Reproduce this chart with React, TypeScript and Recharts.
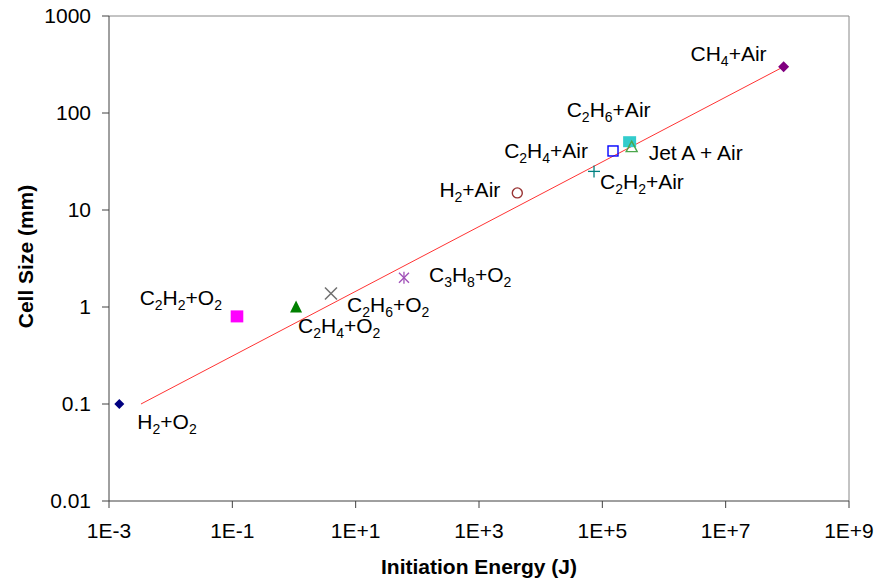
import React from 'react';
import { ScatterChart, Scatter, XAxis, YAxis, ReferenceLine } from 'recharts';

// ---- data ----
const mixtures = ['H2+O2', 'C2H2+O2', 'C2H4+O2', 'C2H6+O2', 'C3H8+O2', 'H2+Air', 'C2H2+Air', 'C2H4+Air', 'C2H6+Air', 'Jet A + Air', 'CH4+Air'];
const initiationEnergy = [0.00147, 0.119, 1.08, 3.98, 60.7, 4180, 73300, 149000, 277000, 299000, 8.7e7];
const cellSize = [0.1, 0.8, 1.0, 1.38, 2.0, 15, 25, 40.6, 50.6, 45, 300];
const fitEnergy = [0.0033, 8.7e7];
const fitCell = [0.1, 300];
const xTicks = [1e-3, 1e-1, 1e1, 1e3, 1e5, 1e7, 1e9];
const xTickLabels = ['1E-3', '1E-1', '1E+1', '1E+3', '1E+5', '1E+7', '1E+9'];
const yTicks = [0.01, 0.1, 1, 10, 100, 1000];
const yTickLabels = ['0.01', '0.1', '1', '10', '100', '1000'];

// ---- styles ----
const FONT = '"Liberation Sans", Arial, sans-serif';
const FS = 21;
type Mk = { kind: string; color: string };
const markers: Mk[] = [
  { kind: 'diamond', color: '#000080' },
  { kind: 'square', color: '#FF00FF' },
  { kind: 'triangle', color: '#008000' },
  { kind: 'x', color: '#707070' },
  { kind: 'star', color: '#A050B8' },
  { kind: 'circleOpen', color: '#993333' },
  { kind: 'plus', color: '#008080' },
  { kind: 'squareOpen', color: '#0000FF' },
  { kind: 'squareBig', color: '#33CCCC' },
  { kind: 'triangleOpen', color: '#4CA64C' },
  { kind: 'diamondBig', color: '#800080' },
];
const labelPos: { anchor: 'start' | 'end' | 'middle'; dx: number; dy: number }[] = [
  { anchor: 'start', dx: 18, dy: 25 },
  { anchor: 'end', dx: -15, dy: -11 },
  { anchor: 'start', dx: 2, dy: 26 },
  { anchor: 'start', dx: 16, dy: 19 },
  { anchor: 'start', dx: 25, dy: 4 },
  { anchor: 'end', dx: -17, dy: 4 },
  { anchor: 'start', dx: 6, dy: 18 },
  { anchor: 'end', dx: -25, dy: 7 },
  { anchor: 'middle', dx: -21, dy: -25 },
  { anchor: 'start', dx: 17, dy: 13.5 },
  { anchor: 'end', dx: -17, dy: -6 },
];

function ChemLabel({ x, y, text, anchor }: { x: number; y: number; text: string; anchor: 'start' | 'end' | 'middle' }) {
  const parts: React.ReactNode[] = [];
  let sub = false;
  let buf = '';
  let k = 0;
  const flush = (isSub: boolean) => {
    if (!buf) return;
    parts.push(
      <tspan key={k++} fontSize={isSub ? 14 : FS} dy={0}>
        {buf}
      </tspan>
    );
    buf = '';
  };
  // build segments with shifts
  const segs: { s: string; sub: boolean }[] = [];
  for (const ch of text) {
    const isDigit = ch >= '0' && ch <= '9';
    if (segs.length && segs[segs.length - 1].sub === isDigit) segs[segs.length - 1].s += ch;
    else segs.push({ s: ch, sub: isDigit });
  }
  void flush; void sub; void parts;
  let cur = 0;
  return (
    <text x={x} y={y} textAnchor={anchor} fontFamily={FONT} fontSize={FS} fill="#000">
      {segs.map((sg, i) => {
        const target = sg.sub ? 5 : 0;
        const d = target - cur;
        cur = target;
        return (
          <tspan key={i} dy={d} fontSize={sg.sub ? 14 : FS}>
            {sg.s}
          </tspan>
        );
      })}
    </text>
  );
}

function Marker({ cx, cy, kind, color }: { cx: number; cy: number; kind: string; color: string }) {
  switch (kind) {
    case 'diamond':
      return <polygon points={`${cx},${cy - 5} ${cx + 5},${cy} ${cx},${cy + 5} ${cx - 5},${cy}`} fill={color} />;
    case 'diamondBig':
      return <polygon points={`${cx},${cy - 5.5} ${cx + 5.5},${cy} ${cx},${cy + 5.5} ${cx - 5.5},${cy}`} fill={color} />;
    case 'square':
      return <rect x={cx - 6.3} y={cy - 6} width={12.6} height={12} fill={color} />;
    case 'squareBig':
      return <rect x={cx - 6.5} y={cy - 5.5} width={13} height={11} fill={color} />;
    case 'squareOpen':
      return <rect x={cx - 5} y={cy - 5} width={10} height={10} fill="none" stroke={color} strokeWidth={1.4} />;
    case 'triangle':
      return <polygon points={`${cx},${cy - 6.5} ${cx + 6},${cy + 5.5} ${cx - 6},${cy + 5.5}`} fill={color} />;
    case 'triangleOpen':
      return <polygon points={`${cx},${cy - 5.5} ${cx + 5.5},${cy + 5} ${cx - 5.5},${cy + 5}`} fill="none" stroke={color} strokeWidth={1.4} />;
    case 'x':
      return (
        <g stroke={color} strokeWidth={1.5}>
          <line x1={cx - 6} y1={cy - 6} x2={cx + 6} y2={cy + 6} />
          <line x1={cx - 6} y1={cy + 6} x2={cx + 6} y2={cy - 6} />
        </g>
      );
    case 'star':
      return (
        <g stroke={color} strokeWidth={1.3}>
          <line x1={cx - 5} y1={cy - 5} x2={cx + 5} y2={cy + 5} />
          <line x1={cx - 5} y1={cy + 5} x2={cx + 5} y2={cy - 5} />
          <line x1={cx} y1={cy - 6} x2={cx} y2={cy + 6} />
        </g>
      );
    case 'plus':
      return (
        <g stroke={color} strokeWidth={1.3}>
          <line x1={cx - 6} y1={cy} x2={cx + 6} y2={cy} />
          <line x1={cx} y1={cy - 6} x2={cx} y2={cy + 6} />
        </g>
      );
    case 'circleOpen':
      return <circle cx={cx} cy={cy} r={5} fill="none" stroke={color} strokeWidth={1.4} />;
    default:
      return <g />;
  }
}

const fitData = fitEnergy.map((x, i) => ({ x, y: fitCell[i] }));

export default function App() {
  return (
    <div style={{ position: 'absolute', left: 0, top: 0, width: 875, height: 583, background: '#fff' }}>
      <ScatterChart width={875} height={583} margin={{ top: 16, right: 26, bottom: 0, left: 0 }}>
        <XAxis
          dataKey="x"
          type="number"
          scale="log"
          domain={[1e-3, 1e9]}
          allowDataOverflow
          ticks={xTicks}
          interval={0}
          tickFormatter={(_v: number, i: number) => xTickLabels[i]}
          height={82}
          tickSize={7}
          tickMargin={15}
          stroke="#404040"
          tick={{ fill: '#000', fontSize: FS, fontFamily: FONT }}
          label={{
            content: (p: any) => {
              const vb = p.viewBox || { x: 109, y: 501, width: 740, height: 82 };
              return (
                <text x={vb.x + vb.width / 2} y={vb.y + vb.height - 9} textAnchor="middle" fontFamily={FONT} fontWeight="bold" fontSize={FS} fill="#000">
                  Initiation Energy (J)
                </text>
              );
            },
          }}
        />
        <YAxis
          dataKey="y"
          type="number"
          scale="log"
          domain={[0.01, 1000]}
          allowDataOverflow
          ticks={yTicks}
          interval={0}
          tickFormatter={(_v: number, i: number) => yTickLabels[i]}
          width={109}
          tickSize={7}
          tickMargin={11}
          stroke="#404040"
          tick={{ fill: '#000', fontSize: FS, fontFamily: FONT }}
          label={{
            content: (p: any) => {
              const vb = p.viewBox || { x: 0, y: 16, width: 109, height: 485 };
              const cx = vb.x + 25;
              const cy = vb.y + vb.height / 2 - 2;
              return (
                <text x={cx} y={cy} transform={`rotate(-90 ${cx} ${cy})`} textAnchor="middle" dominantBaseline="central" fontFamily={FONT} fontWeight="bold" fontSize={FS} fill="#000">
                  Cell Size (mm)
                </text>
              );
            },
          }}
        />
        <ReferenceLine y={1000} stroke="#888" strokeWidth={1} />
        <ReferenceLine x={1e9} stroke="#888" strokeWidth={1} />
        <Scatter data={fitData} line={{ stroke: '#FF3333', strokeWidth: 1 }} shape={() => <g />} isAnimationActive={false} />
        {mixtures.map((name, i) => (
          <Scatter
            key={name}
            name={name}
            data={[{ x: initiationEnergy[i], y: cellSize[i] }]}
            isAnimationActive={false}
            shape={(p: any) => (
              <g>
                <Marker cx={p.cx} cy={p.cy} kind={markers[i].kind} color={markers[i].color} />
                <ChemLabel x={p.cx + labelPos[i].dx} y={p.cy + labelPos[i].dy} text={name} anchor={labelPos[i].anchor} />
              </g>
            )}
          />
        ))}
      </ScatterChart>
    </div>
  );
}
